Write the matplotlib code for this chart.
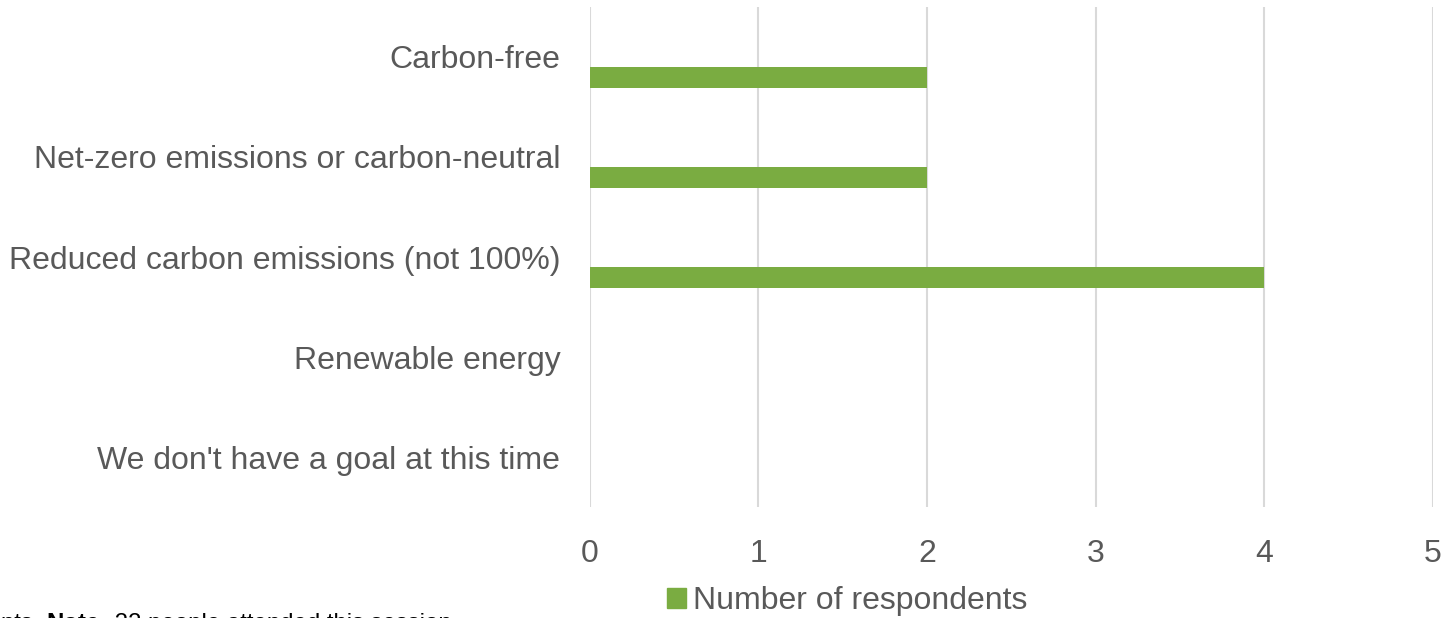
import matplotlib.pyplot as plt
import numpy as np

# Survey responses: type of carbon / energy goal
categories = ['Carbon-free',
              'Net-zero emissions or carbon-neutral',
              'Reduced carbon emissions (not 100%)',
              'Renewable energy',
              "We don't have a goal at this time"]
respondents = [2, 2, 4, 0, 0]
x_ticks = [0, 1, 2, 3, 4, 5]
series_name = 'Number of respondents'
note_parts = [('nts. ', 'normal'), ('Note:', 'bold'),
              (' 22 people attended this session.', 'normal')]

plt.rcParams['font.family'] = ['Liberation Sans', 'DejaVu Sans']

green = '#7AAC41'
text_grey = '#595959'
grid_grey = '#D9D9D9'

W, H = 1452, 618
fig = plt.figure(figsize=(W / 100, H / 100), dpi=100)
ax = fig.add_axes([589.5 / W, 1 - 507 / H, (1433 - 589.5) / W, 500 / H])

y = np.arange(len(categories))
ax.barh(y + 0.2, respondents, height=0.21, color=green, zorder=3)

ax.set_xlim(0, 5)
ax.set_ylim(len(categories) - 0.5, -0.5)
ax.set_xticks(x_ticks)
ax.set_yticks(y)
ax.set_yticklabels(categories)
ax.tick_params(axis='both', length=0, labelsize=23, labelcolor=text_grey)
ax.tick_params(axis='y', pad=21)
ax.tick_params(axis='x', pad=23)
ax.grid(axis='x', color=grid_grey, linewidth=1.5, zorder=0)
ax.grid(axis='y', visible=False)
for s in ax.spines.values():
    s.set_visible(False)

handle = plt.Rectangle((0, 0), 1, 1, color=green)
fig.legend([handle], [series_name], loc='center',
           bbox_to_anchor=(847 / W, 1 - 601 / H), frameon=False,
           fontsize=23, labelcolor=text_grey, handlelength=0.6,
           handleheight=0.6, handletextpad=0.2, borderpad=0)

# footnote running off the lower-left corner, pieces chained left to right
prev = fig.text(0.001, 1 - 635 / H, note_parts[0][0], fontsize=17.3,
                fontweight=note_parts[0][1], color='black',
                ha='left', va='bottom')
for txt, weight in note_parts[1:]:
    prev = ax.annotate(txt, xy=(1, 0), xycoords=prev, fontsize=17.3,
                       fontweight=weight, color='black',
                       ha='left', va='bottom', annotation_clip=False)

fig.savefig('out.png', dpi=100)
